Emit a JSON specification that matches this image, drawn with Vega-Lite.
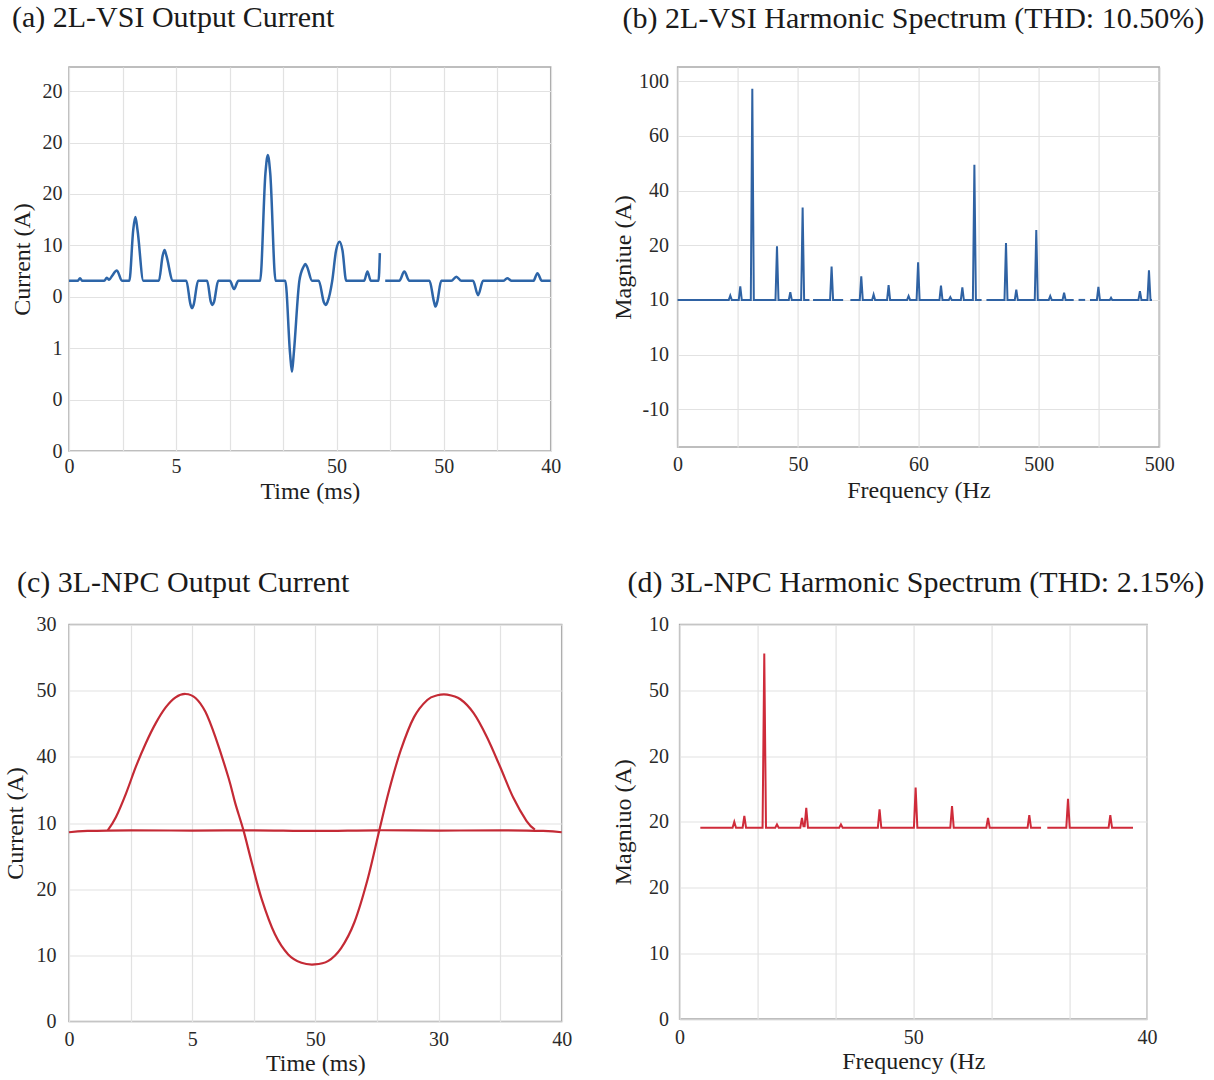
{
  "$schema": "https://vega.github.io/schema/vega-lite/v6.json",
  "autosize": {"type": "none"},
  "padding": {"left": 69, "top": 67, "right": 1145, "bottom": 1013},
  "background": "white",
  "config": {
    "view": {"stroke": "#a9a9a9", "strokeWidth": 1.5},
    "axis": {"domain": false, "ticks": false, "gridColor": "#e2e2e2", "gridWidth": 1.2, "labelFont": "Liberation Serif", "labelFontSize": 20, "labelColor": "#2a2a2a", "titleFont": "Liberation Serif", "titleFontSize": 24, "titleFontWeight": "normal", "titleColor": "#1e1e1e", "labelOverlap": false, "labelFlush": false},
    "title": {"font": "Liberation Serif", "fontSize": 30, "fontWeight": "normal", "color": "#1a1a1a", "anchor": "start", "frame": "group", "baseline": "alphabetic"}
  },
  "datasets": {
    "a": [
      {"t":0,"i":3.31,"s":1},{"t":0.16,"i":3.31,"s":1},{"t":0.206,"i":3.36,"s":1},{"t":0.25,"i":3.31,"s":1},{"t":0.657,"i":3.31,"s":1},{"t":0.707,"i":3.37,"s":1},{"t":0.75,"i":3.33,"s":1},{"t":0.8,"i":3.4,"s":1},{"t":0.895,"i":3.51,"s":1},{"t":0.99,"i":3.31,"s":1},{"t":1.127,"i":3.31,"s":1},{"t":1.2,"i":4.3,"s":1},{"t":1.24,"i":4.55,"s":1},{"t":1.28,"i":4.3,"s":1},{"t":1.39,"i":3.31,"s":1},{"t":1.679,"i":3.31,"s":1},{"t":1.75,"i":3.8,"s":1},{"t":1.785,"i":3.91,"s":1},{"t":1.82,"i":3.8,"s":1},{"t":1.942,"i":3.31,"s":1},{"t":2.192,"i":3.31,"s":1},{"t":2.27,"i":2.85,"s":1},{"t":2.299,"i":2.78,"s":1},{"t":2.33,"i":2.85,"s":1},{"t":2.412,"i":3.31,"s":1},{"t":2.581,"i":3.31,"s":1},{"t":2.65,"i":2.9,"s":1},{"t":2.681,"i":2.84,"s":1},{"t":2.71,"i":2.9,"s":1},{"t":2.788,"i":3.31,"s":1},{"t":3.007,"i":3.31,"s":1},{"t":3.082,"i":3.15,"s":1},{"t":3.164,"i":3.31,"s":1},{"t":3.571,"i":3.31,"s":1},{"t":3.67,"i":5.4,"s":1},{"t":3.715,"i":5.76,"s":1},{"t":3.76,"i":5.4,"s":1},{"t":3.86,"i":3.31,"s":1},{"t":4.041,"i":3.31,"s":1},{"t":4.13,"i":1.9,"s":1},{"t":4.166,"i":1.54,"s":1},{"t":4.2,"i":1.9,"s":1},{"t":4.304,"i":3.31,"s":1},{"t":4.38,"i":3.58,"s":1},{"t":4.417,"i":3.64,"s":1},{"t":4.45,"i":3.58,"s":1},{"t":4.542,"i":3.31,"s":1},{"t":4.667,"i":3.31,"s":1},{"t":4.76,"i":2.9,"s":1},{"t":4.793,"i":2.84,"s":1},{"t":4.83,"i":2.9,"s":1},{"t":4.918,"i":3.31,"s":1},{"t":4.99,"i":3.9,"s":1},{"t":5.056,"i":4.07,"s":1},{"t":5.11,"i":3.9,"s":1},{"t":5.18,"i":3.31,"s":1},{"t":5.513,"i":3.31,"s":1},{"t":5.576,"i":3.49,"s":1},{"t":5.64,"i":3.31,"s":1},{"t":5.783,"i":3.31,"s":1},{"t":5.808,"i":3.85,"s":1},
      {"t":5.908,"i":3.31,"s":2},{"t":6.171,"i":3.31,"s":2},{"t":6.265,"i":3.49,"s":2},{"t":6.359,"i":3.31,"s":2},{"t":6.735,"i":3.31,"s":2},{"t":6.82,"i":2.9,"s":2},{"t":6.848,"i":2.81,"s":2},{"t":6.88,"i":2.9,"s":2},{"t":6.955,"i":3.31,"s":2},{"t":7.143,"i":3.31,"s":2},{"t":7.237,"i":3.39,"s":2},{"t":7.331,"i":3.31,"s":2},{"t":7.549,"i":3.31,"s":2},{"t":7.643,"i":3.03,"s":2},{"t":7.737,"i":3.31,"s":2},{"t":8.113,"i":3.31,"s":2},{"t":8.188,"i":3.36,"s":2},{"t":8.27,"i":3.31,"s":2},{"t":8.677,"i":3.31,"s":2},{"t":8.752,"i":3.46,"s":2},{"t":8.834,"i":3.31,"s":2},{"t":9.0,"i":3.31,"s":2}
    ],
    "b": [
      {"f":0,"m":2,"s":1},{"f":0.85,"m":2,"s":1},{"f":0.875,"m":2.08,"s":1},{"f":0.9,"m":2,"s":1},{"f":1.016,"m":2,"s":1},{"f":1.041,"m":2.25,"s":1},{"f":1.066,"m":2,"s":1},{"f":1.216,"m":2,"s":1},{"f":1.241,"m":5.86,"s":1},{"f":1.266,"m":2,"s":1},{"f":1.626,"m":2,"s":1},{"f":1.651,"m":2.98,"s":1},{"f":1.676,"m":2,"s":1},{"f":1.847,"m":2,"s":1},{"f":1.872,"m":2.14,"s":1},{"f":1.897,"m":2,"s":1},{"f":2.052,"m":2,"s":1},{"f":2.077,"m":3.69,"s":1},{"f":2.102,"m":2,"s":1},{"f":2.19,"m":2,"s":1},
      {"f":2.25,"m":2,"s":2},{"f":2.533,"m":2,"s":2},{"f":2.558,"m":2.61,"s":2},{"f":2.583,"m":2,"s":2},{"f":2.75,"m":2,"s":2},
      {"f":2.87,"m":2,"s":3},{"f":3.026,"m":2,"s":3},{"f":3.051,"m":2.43,"s":3},{"f":3.076,"m":2,"s":3},{"f":3.231,"m":2,"s":3},{"f":3.256,"m":2.1,"s":3},{"f":3.281,"m":2,"s":3},{"f":3.48,"m":2,"s":3},{"f":3.505,"m":2.27,"s":3},{"f":3.53,"m":2,"s":3},{"f":3.812,"m":2,"s":3},{"f":3.837,"m":2.07,"s":3},{"f":3.862,"m":2,"s":3},{"f":3.97,"m":2,"s":3},{"f":3.995,"m":2.69,"s":3},{"f":4.02,"m":2,"s":3},{"f":4.35,"m":2,"s":3},{"f":4.375,"m":2.26,"s":3},{"f":4.4,"m":2,"s":3},{"f":4.505,"m":2,"s":3},{"f":4.53,"m":2.05,"s":3},{"f":4.555,"m":2,"s":3},{"f":4.705,"m":2,"s":3},{"f":4.73,"m":2.23,"s":3},{"f":4.755,"m":2,"s":3},{"f":4.905,"m":2,"s":3},{"f":4.93,"m":4.47,"s":3},{"f":4.955,"m":2,"s":3},{"f":5.05,"m":2,"s":3},
      {"f":5.13,"m":2,"s":4},{"f":5.43,"m":2,"s":4},{"f":5.455,"m":3.04,"s":4},{"f":5.48,"m":2,"s":4},{"f":5.601,"m":2,"s":4},{"f":5.626,"m":2.19,"s":4},{"f":5.651,"m":2,"s":4},{"f":5.933,"m":2,"s":4},{"f":5.958,"m":3.28,"s":4},{"f":5.983,"m":2,"s":4},{"f":6.165,"m":2,"s":4},{"f":6.19,"m":2.07,"s":4},{"f":6.215,"m":2,"s":4},{"f":6.395,"m":2,"s":4},{"f":6.42,"m":2.13,"s":4},{"f":6.445,"m":2,"s":4},{"f":6.58,"m":2,"s":4},
      {"f":6.66,"m":2,"s":5},{"f":6.77,"m":2,"s":5},
      {"f":6.85,"m":2,"s":6},{"f":6.965,"m":2,"s":6},{"f":6.99,"m":2.24,"s":6},{"f":7.015,"m":2,"s":6},{"f":7.18,"m":2,"s":6},{"f":7.2,"m":2.04,"s":6},{"f":7.22,"m":2,"s":6},{"f":7.655,"m":2,"s":6},{"f":7.68,"m":2.16,"s":6},{"f":7.705,"m":2,"s":6},{"f":7.805,"m":2,"s":6},{"f":7.83,"m":2.54,"s":6},{"f":7.855,"m":2,"s":6},{"f":7.88,"m":2,"s":6}
    ],
    "c": [
      {"t":0,"i":2.86,"s":"base"},{"t":0.3,"i":2.88,"s":"base"},{"t":1,"i":2.89,"s":"base"},{"t":2,"i":2.885,"s":"base"},{"t":3,"i":2.89,"s":"base"},{"t":4,"i":2.88,"s":"base"},{"t":5,"i":2.89,"s":"base"},{"t":6,"i":2.885,"s":"base"},{"t":7,"i":2.89,"s":"base"},{"t":7.7,"i":2.88,"s":"base"},{"t":8,"i":2.86,"s":"base"},
      {"t":0.629,"i":2.888,"s":"wave"},{"t":0.763,"i":3.091,"s":"wave"},{"t":0.925,"i":3.445,"s":"wave"},{"t":1.086,"i":3.851,"s":"wave"},{"t":1.247,"i":4.205,"s":"wave"},{"t":1.409,"i":4.509,"s":"wave"},{"t":1.57,"i":4.747,"s":"wave"},{"t":1.731,"i":4.899,"s":"wave"},{"t":1.892,"i":4.95,"s":"wave"},{"t":2.054,"i":4.89,"s":"wave"},{"t":2.215,"i":4.68,"s":"wave"},{"t":2.376,"i":4.3,"s":"wave"},{"t":2.591,"i":3.68,"s":"wave"},{"t":2.699,"i":3.3,"s":"wave"},{"t":2.833,"i":2.888,"s":"wave"},{"t":2.968,"i":2.4,"s":"wave"},{"t":3.129,"i":1.85,"s":"wave"},{"t":3.344,"i":1.318,"s":"wave"},{"t":3.559,"i":1.014,"s":"wave"},{"t":3.774,"i":0.887,"s":"wave"},{"t":3.989,"i":0.862,"s":"wave"},{"t":4.204,"i":0.912,"s":"wave"},{"t":4.419,"i":1.11,"s":"wave"},{"t":4.634,"i":1.5,"s":"wave"},{"t":4.849,"i":2.15,"s":"wave"},{"t":5.038,"i":2.888,"s":"wave"},{"t":5.199,"i":3.5,"s":"wave"},{"t":5.387,"i":4.1,"s":"wave"},{"t":5.602,"i":4.6,"s":"wave"},{"t":5.817,"i":4.86,"s":"wave"},{"t":5.98,"i":4.93,"s":"wave"},{"t":6.14,"i":4.94,"s":"wave"},{"t":6.355,"i":4.87,"s":"wave"},{"t":6.57,"i":4.66,"s":"wave"},{"t":6.785,"i":4.3,"s":"wave"},{"t":7.0,"i":3.85,"s":"wave"},{"t":7.215,"i":3.38,"s":"wave"},{"t":7.43,"i":3.03,"s":"wave"},{"t":7.565,"i":2.9,"s":"wave"}
    ],
    "d": [
      {"f":0.266,"m":2.91,"s":1},{"f":0.68,"m":2.91,"s":1},{"f":0.702,"m":3.0,"s":1},{"f":0.724,"m":2.91,"s":1},{"f":0.809,"m":2.91,"s":1},{"f":0.831,"m":3.09,"s":1},{"f":0.853,"m":2.91,"s":1},{"f":1.065,"m":2.91,"s":1},{"f":1.087,"m":5.56,"s":1},{"f":1.109,"m":2.91,"s":1},{"f":1.228,"m":2.91,"s":1},{"f":1.25,"m":2.96,"s":1},{"f":1.272,"m":2.91,"s":1},{"f":1.549,"m":2.91,"s":1},{"f":1.571,"m":3.06,"s":1},{"f":1.59,"m":2.93,"s":1},{"f":1.605,"m":2.93,"s":1},{"f":1.626,"m":3.21,"s":1},{"f":1.648,"m":2.91,"s":1},{"f":2.049,"m":2.91,"s":1},{"f":2.071,"m":2.96,"s":1},{"f":2.093,"m":2.91,"s":1},{"f":2.545,"m":2.91,"s":1},{"f":2.567,"m":3.19,"s":1},{"f":2.589,"m":2.91,"s":1},{"f":3.008,"m":2.91,"s":1},{"f":3.03,"m":3.52,"s":1},{"f":3.052,"m":2.91,"s":1},{"f":3.475,"m":2.91,"s":1},{"f":3.497,"m":3.24,"s":1},{"f":3.519,"m":2.91,"s":1},{"f":3.937,"m":2.91,"s":1},{"f":3.959,"m":3.06,"s":1},{"f":3.981,"m":2.91,"s":1},{"f":4.467,"m":2.91,"s":1},{"f":4.489,"m":3.1,"s":1},{"f":4.511,"m":2.91,"s":1},{"f":4.64,"m":2.91,"s":1},
      {"f":4.72,"m":2.91,"s":2},{"f":4.964,"m":2.91,"s":2},{"f":4.986,"m":3.35,"s":2},{"f":5.008,"m":2.91,"s":2},{"f":5.507,"m":2.91,"s":2},{"f":5.529,"m":3.1,"s":2},{"f":5.551,"m":2.91,"s":2},{"f":5.82,"m":2.91,"s":2}
    ]
  },
  "spacing": 557.5,
  "bounds": "flush",
  "vconcat": [
    {
      "spacing": 126.6,
      "bounds": "flush",
      "hconcat": [
        {
          "width": 481.7,
          "height": 384,
          "title": {"text": "(a) 2L-VSI Output Current", "dx": -57, "offset": 34},
          "data": {"name": "a"},
          "mark": {"type": "line", "color": "#2d65a8", "strokeWidth": 2.5, "interpolate": "monotone"},
          "encoding": {
            "x": {"field": "t", "type": "quantitative", "scale": {"domain": [0, 9], "nice": false, "zero": false}, "axis": {"values": [0,1,2,3,4,5,6,7,8,9], "labelExpr": "['0','','5','','','50','','50','','40'][datum.value]", "title": "Time (ms)", "labelPadding": 5, "titlePadding": 3}},
            "y": {"field": "i", "type": "quantitative", "scale": {"domain": [0, 7.47], "nice": false, "zero": false}, "axis": {"values": [0,1,2,3,4,5,6,7], "labelExpr": "['0','0','1','0','10','20','20','20'][datum.value]", "title": "Current (A)", "labelPadding": 7, "minExtent": 30, "maxExtent": 30, "titlePadding": 5}},
            "detail": {"field": "s"}
          }
        },
        {
          "width": 481.6,
          "height": 380,
          "title": {"text": "(b) 2L-VSI Harmonic Spectrum (THD: 10.50%)", "dx": -55, "offset": 33},
          "data": {"name": "b"},
          "mark": {"type": "line", "color": "#2f62a3", "strokeWidth": 2},
          "encoding": {
            "x": {"field": "f", "type": "quantitative", "scale": {"domain": [0, 8], "nice": false, "zero": false}, "axis": {"values": [0,1,2,3,4,5,6,7,8], "labelExpr": "['0','','50','','60','','500','','500'][datum.value]", "title": "Frequency (Hz", "labelPadding": 7, "titlePadding": 4}},
            "y": {"field": "m", "type": "quantitative", "scale": {"domain": [-0.69, 6.26], "nice": false, "zero": false}, "axis": {"values": [0,1,2,3,4,5,6], "labelExpr": "['-10','10','10','20','40','60','100'][datum.value]", "title": "Magniue (A)", "labelPadding": 9, "minExtent": 36, "maxExtent": 36, "titlePadding": 6}},
            "detail": {"field": "s"}
          }
        }
      ]
    },
    {
      "spacing": 117.6,
      "bounds": "flush",
      "hconcat": [
        {
          "width": 492.7,
          "height": 397,
          "title": {"text": "(c) 3L-NPC Output Current", "dx": -52, "offset": 17},
          "data": {"name": "c"},
          "mark": {"type": "line", "color": "#c42a35", "strokeWidth": 2.2, "interpolate": "cardinal"},
          "encoding": {
            "x": {"field": "t", "type": "quantitative", "scale": {"domain": [0, 8], "nice": false, "zero": false}, "axis": {"values": [0,1,2,3,4,5,6,7,8], "labelExpr": "['0','','5','','50','','30','','40'][datum.value]", "title": "Time (ms)", "labelPadding": 8, "titlePadding": 2}},
            "y": {"field": "i", "type": "quantitative", "scale": {"domain": [0, 6], "nice": false, "zero": false}, "axis": {"values": [0,1,2,3,4,5,6], "labelExpr": "['0','10','20','10','40','50','30'][datum.value]", "title": "Current (A)", "labelPadding": 13, "minExtent": 36, "maxExtent": 36, "titlePadding": 6}},
            "detail": {"field": "s"}
          }
        },
        {
          "width": 467.4,
          "height": 394.5,
          "title": {"text": "(d) 3L-NPC Harmonic Spectrum (THD: 2.15%)", "dx": -52, "offset": 17},
          "data": {"name": "d"},
          "mark": {"type": "line", "color": "#cf2b3a", "strokeWidth": 2},
          "encoding": {
            "x": {"field": "f", "type": "quantitative", "scale": {"domain": [0, 6], "nice": false, "zero": false}, "axis": {"values": [0,1,2,3,4,5,6], "labelExpr": "['0','','','50','','','40'][datum.value]", "title": "Frequency (Hz", "labelPadding": 8, "titlePadding": 2}},
            "y": {"field": "m", "type": "quantitative", "scale": {"domain": [0, 6], "nice": false, "zero": false}, "axis": {"values": [0,1,2,3,4,5,6], "labelExpr": "['0','10','20','20','20','50','10'][datum.value]", "title": "Magniuo (A)", "labelPadding": 11, "minExtent": 38, "maxExtent": 38, "titlePadding": 6}},
            "detail": {"field": "s"}
          }
        }
      ]
    }
  ]
}
